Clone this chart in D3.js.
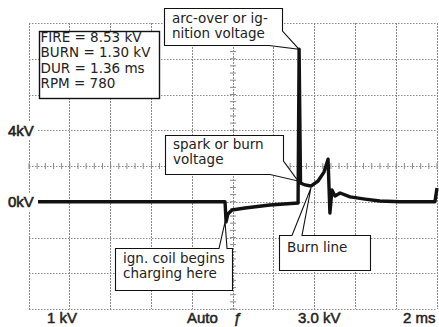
<!DOCTYPE html>
<html>
<head>
<meta charset="utf-8">
<script src="https://cdn.jsdelivr.net/npm/d3@7"></script>
<style>
  html, body { margin: 0; padding: 0; background: #fff; }
  svg { display: block; }
</style>
</head>
<body>
<svg id="chart" width="439" height="327"></svg>
<script>
// ---- data ----
const timeMs = [0, 1.5, 3, 4.5, 6, 7.5, 9, 9.61, 9.66, 9.75, 9.95, 10.59, 11.81, 13.19, 13.24, 13.31, 13.53, 13.82, 14.17, 14.46, 14.66, 14.75, 14.85, 15.0, 15.25, 15.74, 16.47, 17.2, 18.19, 19.9, 20.0];
const voltsKV = [0, 0, 0, 0, 0, 0, 0, 0, -1.13, -0.68, -0.46, -0.35, -0.18, -0.07, 8.53, 1.05, 0.94, 0.88, 1.16, 1.66, 2.38, -0.63, 0.66, 0.32, 0.49, 0.27, 0.15, 0.04, 0, 0, 0.77];
const gridTimes = [0, 2, 4, 6, 8, 10, 12, 14, 16, 18, 20];
const gridVolts = [-6, -4, -2, 0, 2, 4, 6, 8, 10];
const yLabelValues = [4, 0];
const yLabelTexts = ["4kV", "0kV"];
const bottomTexts = ["1 kV", "Auto", "\u0192", "3.0 kV", "2 ms"];
const infoLines = ["FIRE = 8.53 kV", "BURN = 1.30 kV", "DUR = 1.36 ms", "RPM = 780"];
const arcText = ["arc-over or ig-", "nition voltage"];
const sparkText = ["spark or burn", "voltage"];
const coilText = ["ign. coil begins", "charging here"];
const burnText = ["Burn line"];

// ---- layout ----
const svg = d3.select("#chart");
const x = d3.scaleLinear().domain([0, 20]).range([29, 437]);
const y = d3.scaleLinear().domain([-6, 10]).range([309, 23]);

const grid = svg.append("g");
grid.selectAll("line.v").data(gridTimes).join("line")
  .attr("x1", d => x(d)).attr("x2", d => x(d))
  .attr("y1", y(10)).attr("y2", y(-6))
  .attr("stroke", "#8a8a8a").attr("stroke-width", 1)
  .attr("stroke-dasharray", "1.5,1.5").attr("shape-rendering", "crispEdges");
grid.selectAll("line.h").data(gridVolts).join("line")
  .attr("y1", d => Math.round(y(d)) + 0.5).attr("y2", d => Math.round(y(d)) + 0.5)
  .attr("x1", x(0)).attr("x2", x(20))
  .attr("stroke", "#8a8a8a").attr("stroke-width", 1)
  .attr("stroke-dasharray", "1.5,1.5");

// minor ticks on centre axes
const minorT = d3.range(0, 20.01, 0.4);
const minorV = d3.range(-6, 10.01, 0.4);
grid.selectAll("line.mt").data(minorT).join("line")
  .attr("x1", d => x(d)).attr("x2", d => x(d))
  .attr("y1", y(2) - 3).attr("y2", y(2) + 3)
  .attr("stroke", "#8a8a8a").attr("stroke-width", 1);
grid.selectAll("line.mv").data(minorV).join("line")
  .attr("y1", d => y(d)).attr("y2", d => y(d))
  .attr("x1", x(10) - 3).attr("x2", x(10) + 3)
  .attr("stroke", "#8a8a8a").attr("stroke-width", 1);

// trace
const line = d3.line().x((d, i) => x(timeMs[i])).y((d, i) => y(voltsKV[i]));
svg.append("path").datum(voltsKV).attr("d", line)
  .attr("fill", "none").attr("stroke", "#111").attr("stroke-width", 3.4)
  .attr("stroke-linejoin", "round");

// y labels (drawn over grid and trace start)
const yl = svg.append("g");
yLabelValues.forEach((v, i) => {
  yl.append("rect").attr("x", 0).attr("y", y(v) - 9).attr("width", 38).attr("height", 18).attr("fill", "#fff");
  yl.append("text").attr("x", 8).attr("y", y(v) + 5.5)
    .attr("font-family", "Liberation Sans, Arial, sans-serif").attr("font-size", 15)
    .attr("fill", "#222").attr("stroke", "#222").attr("stroke-width", 0.6)
    .text(yLabelTexts[i]);
});

// bottom labels
const bx = [47, 187, 233, 298, 403];
bottomTexts.forEach((t, i) => {
  svg.append("text").attr("x", bx[i]).attr("y", 323)
    .attr("font-family", "Liberation Sans, Arial, sans-serif").attr("font-size", 15)
    .attr("font-style", t === "\u0192" ? "italic" : "normal")
    .attr("fill", "#222").attr("stroke", "#222").attr("stroke-width", 0.5)
    .text(t);
});

// callouts
const font = "DejaVu Sans, Verdana, sans-serif";
function callout(points, lines, tx, ty0, dy) {
  svg.append("path").attr("d", "M" + points.map(p => p.join(",")).join("L") + "Z")
    .attr("fill", "#fff").attr("stroke", "#111").attr("stroke-width", 1.1);
  lines.forEach((t, i) => {
    svg.append("text").attr("x", tx).attr("y", ty0 + i * dy)
      .attr("font-family", font).attr("font-size", 13.5).attr("fill", "#222").text(t);
  });
}

// info box
svg.append("rect").attr("x", 39.5).attr("y", 31.5).attr("width", 120).attr("height", 67)
  .attr("fill", "#fff").attr("stroke", "#111").attr("stroke-width", 1.4);
infoLines.forEach((t, i) => {
  svg.append("text").attr("x", 40.5).attr("y", 41.5 + i * 15.6)
    .attr("font-family", font).attr("font-size", 13.5).attr("fill", "#222").text(t);
});

const peak = [x(13.24), y(8.53)];
callout([[164.5, 8.5], [282.5, 8.5], [282.5, 31], peak, [269, 45.5], [164.5, 45.5]],
  arcText, 172, 23, 15);

callout([[165.5, 135.5], [283.5, 135.5], [283.5, 161], [298, 181], [270, 174.5], [165.5, 174.5]],
  sparkText, 173, 149, 15);

const dip = [x(9.66) - 1, y(-1.13)];
callout([[115.5, 248.5], [219, 248.5], dip, [227, 248.5], [232.5, 248.5], [232.5, 290.5], [115.5, 290.5]],
  coilText, 123, 263, 15);

const burnTip = [x(13.82), y(0.88) + 2];
callout([[279.5, 235.5], [292, 235.5], burnTip, [302, 235.5], [370.5, 235.5], [370.5, 270.5], [279.5, 270.5]],
  burnText, 287, 252, 15);
</script>
</body>
</html>
